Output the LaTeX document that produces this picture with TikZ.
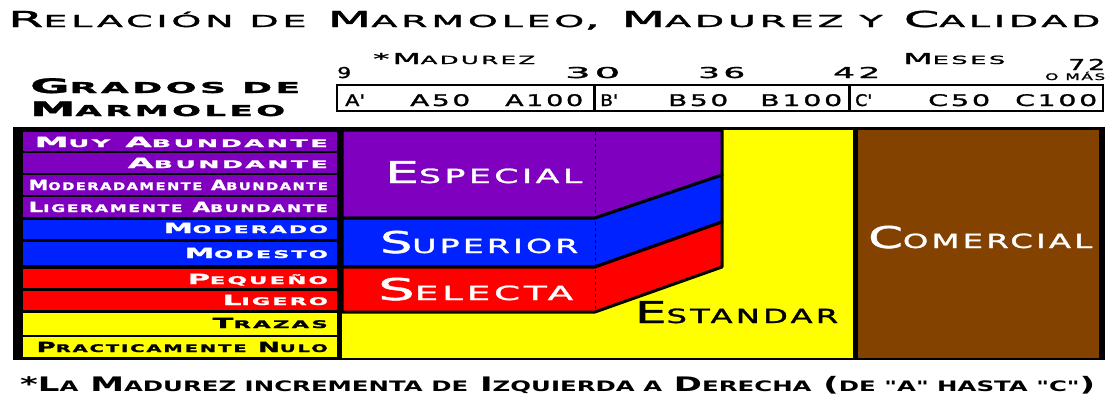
\documentclass[tikz,border=0pt]{standalone}
\usepackage{fontspec}
\usepackage{graphicx}
\newfontfamily\chartfont[LetterSpace=10,FakeBold=1.3]{DejaVu Sans}
\newfontfamily\notefont{DejaVu Sans}
\newcommand{\sm}[2][0.75]{\scalebox{#1}{#2}}
\newcommand{\wide}[2]{\resizebox{#1pt}{\height}{#2}}
\definecolor{especial}{HTML}{8000C0}
\definecolor{superior}{HTML}{0022FF}
\definecolor{selecta}{HTML}{FF0000}
\definecolor{estandar}{HTML}{FFFF00}
\definecolor{comercial}{HTML}{844200}
\tikzset{
  txt/.style={inner sep=0pt, anchor=base west},
  big/.style={txt, font=\chartfont\fontsize{#1}{#1}\selectfont},
  rowlbl/.style={inner sep=0pt, anchor=base east, font=\chartfont\bfseries\fontsize{14}{14}\selectfont},
  grade/.style={big=30},
  band/.style={draw=black, line width=3pt, line join=round}
}
\begin{document}
\begin{tikzpicture}[x=1pt,y=-1pt]
  \useasboundingbox (0,0) rectangle (1113,394);
  % heading
  \node[big=22] (title) at (8,27)
    {\wide{1092}{R\sm{ELACIÓN DE} M\sm{ARMOLEO}, M\sm{ADUREZ Y} C\sm{ALIDAD}}};
  \node[big=20, font=\chartfont\bfseries\fontsize{20}{20}\selectfont] (grados) at (30,93) {\wide{270}{G\sm{RADOS DE}}};
  \node[big=20, font=\chartfont\bfseries\fontsize{20}{20}\selectfont] (marmoleo) at (30,116) {\wide{255}{M\sm{ARMOLEO}}};
  \node[big=15] (madurez) at (373,64) {\wide{162}{*M\sm{ADUREZ}}};
  \node[big=15] (meses) at (903,64) {\wide{102}{M\sm{ESES}}};
  % months
  \node[big=15] (m9) at (337,78) {\wide{14}{9}};
  \node[big=15] (m30) at (565,78) {\wide{55}{30}};
  \node[big=15] (m36) at (698,78) {\wide{47}{36}};
  \node[big=15] (m42) at (833,78) {\wide{47}{42}};
  \node[big=15] (m72) at (1068,70) {\wide{37}{72}};
  \node[big=9] (omas) at (1045,80) {\wide{60}{O MÁS}};
  % maturity scale
  \draw[line width=2pt] (337,85) rectangle (1103,111);
  \draw[line width=3pt] (594,85) -- (594,111);
  \draw[line width=3pt] (849,85) -- (849,111);
  \foreach \x/\w/\lab [count=\i] in {345/20/{A\textquotesingle}, 410/60/A50, 505/78/A100,
      600/18/{B\textquotesingle}, 668/60/B50, 760/82/B100,
      855/17/{C\textquotesingle}, 928/62/C50, 1015/82/C100}
    \node[big=16] (grade\i) at (\x,106) {\wide{\w}{\lab}};
  % chart frame
  \fill[black] (13,127) rectangle (1105,360);
  \foreach \yt/\yb/\yl/\fc/\tc/\w/\lab [count=\i] in {
      132/151/147/especial/white/293/{M\sm{UY} A\sm{BUNDANTE}},
      153/173/168/especial/white/200/{A\sm{BUNDANTE}},
      175/195/190/especial/white/299/{M\sm{ODERADAMENTE} A\sm{BUNDANTE}},
      197/217/212/especial/white/299/{L\sm{IGERAMENTE} A\sm{BUNDANTE}},
      220/239/233/superior/white/164/{M\sm{ODERADO}},
      242/265/258/superior/white/143/{M\sm{ODESTO}},
      269/288/284/selecta/white/140/{P\sm{EQUEÑO}},
      291/310/305/selecta/white/105/{L\sm{IGERO}},
      313/335/328/estandar/black/115/{T\sm{RAZAS}},
      337/357/352/estandar/black/291/{P\sm{RACTICAMENTE} N\sm{ULO}}}
  {
    \fill[\fc] (23,\yt) rectangle (337,\yb);
    \node[rowlbl, text=\tc] (row\i) at (328,\yl) {\wide{\w}{\lab}};
  }
  % quality bands
  \fill[estandar] (342,130) rectangle (853,358);
  \filldraw[fill=especial, band] (342,130) -- (722,130) -- (722,175) -- (595,218) -- (342,218) -- cycle;
  \filldraw[fill=superior, band] (342,218) -- (595,218) -- (722,175) -- (722,222) -- (595,267) -- (342,267) -- cycle;
  \filldraw[fill=selecta, band] (342,267) -- (595,267) -- (722,222) -- (722,267) -- (595,312) -- (342,312) -- cycle;
  \fill[black] (338,128) rectangle (342,358);
  \draw[dashed, line width=0.8pt] (595,132) -- (595,311);
  \fill[comercial] (858,130) rectangle (1099,358);
  \node[grade, text=white] (especialtxt) at (385,183) {\wide{197}{E\sm[0.65]{SPECIAL}}};
  \node[grade, text=white] (superiortxt) at (380,253) {\wide{198}{S\sm[0.65]{UPERIOR}}};
  \node[grade, text=white] (selectatxt) at (378,300) {\wide{195}{S\sm[0.65]{ELECTA}}};
  \node[grade] (estandartxt) at (635,323) {\wide{203}{E\sm[0.65]{STANDAR}}};
  \node[grade, text=white] (comercialtxt) at (868,248) {\wide{224}{C\sm[0.65]{OMERCIAL}}};
  % note
  \node[txt, font=\notefont\bfseries\fontsize{20}{20}\selectfont] (note) at (20,391)
    {\wide{1075}{*L\sm[0.72]{A} M\sm[0.72]{ADUREZ INCREMENTA DE} I\sm[0.72]{ZQUIERDA A} D\sm[0.72]{ERECHA} (\sm[0.72]{DE \textquotedbl A\textquotedbl{} HASTA \textquotedbl C\textquotedbl})}};
\end{tikzpicture}
\end{document}
